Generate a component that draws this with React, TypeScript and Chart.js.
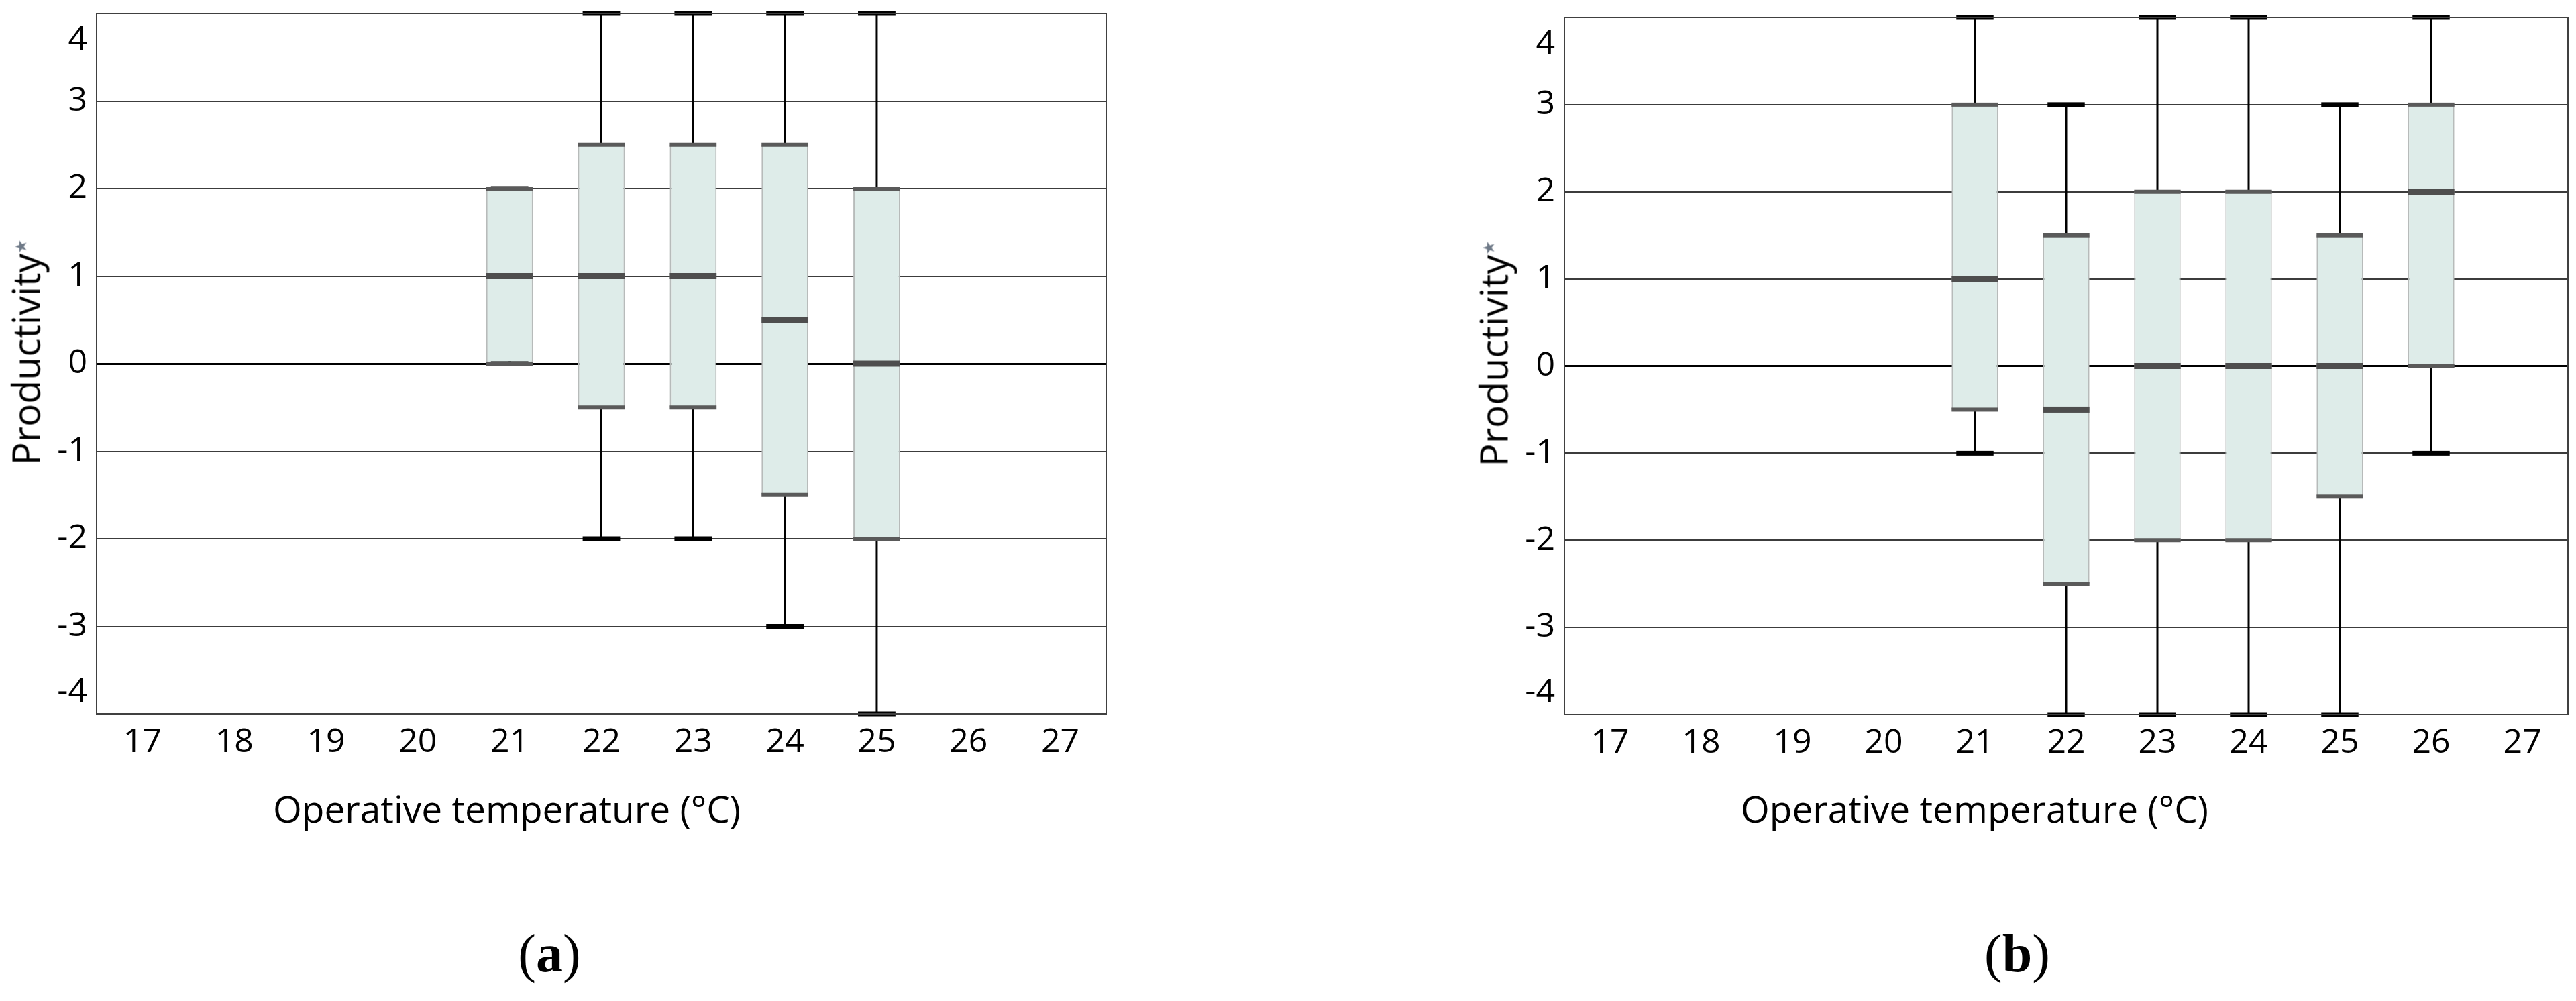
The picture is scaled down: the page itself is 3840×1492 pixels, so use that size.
import React, { useEffect, useRef } from 'react';
import { Chart, registerables } from 'chart.js';

Chart.register(...registerables);

// ---------- data ----------
const categories = ['17', '18', '19', '20', '21', '22', '23', '24', '25', '26', '27'];
const yTickValues = [-4, -3, -2, -1, 0, 1, 2, 3, 4];

// panel (a)
const aMin = [null, null, null, null, 0, -2, -2, -3, -4, null, null];
const aQ1 = [null, null, null, null, 0, -0.5, -0.5, -1.5, -2, null, null];
const aMedian = [null, null, null, null, 1, 1, 1, 0.5, 0, null, null];
const aQ3 = [null, null, null, null, 2, 2.5, 2.5, 2.5, 2, null, null];
const aMax = [null, null, null, null, 2, 4, 4, 4, 4, null, null];

// panel (b)
const bMin = [null, null, null, null, -1, -4, -4, -4, -4, -1, null];
const bQ1 = [null, null, null, null, -0.5, -2.5, -2, -2, -1.5, 0, null];
const bMedian = [null, null, null, null, 1, -0.5, 0, 0, 0, 2, null];
const bQ3 = [null, null, null, null, 3, 1.5, 2, 2, 1.5, 3, null];
const bMax = [null, null, null, null, 4, 3, 4, 4, 3, 4, null];

const xTitle = 'Operative temperature (°C)';
const yTitle = 'Productivity';

type Stats = {
  min: (number | null)[];
  q1: (number | null)[];
  median: (number | null)[];
  q3: (number | null)[];
  max: (number | null)[];
};

const FONT = '"Open Sans", "Noto Sans", sans-serif';

function makeBoxPlugin(s: Stats) {
  return {
    id: 'boxWhiskers',
    beforeDatasetsDraw(chart: any) {
      const { ctx } = chart;
      const y = chart.scales.y;
      const meta = chart.getDatasetMeta(0);
      ctx.save();
      ctx.strokeStyle = '#000';
      ctx.lineWidth = 3;
      meta.data.forEach((bar: any, i: number) => {
        if (s.min[i] == null || s.max[i] == null) return;
        ctx.beginPath();
        ctx.moveTo(bar.x, y.getPixelForValue(s.max[i]));
        ctx.lineTo(bar.x, y.getPixelForValue(s.min[i]));
        ctx.stroke();
      });
      ctx.restore();
    },
    afterDatasetsDraw(chart: any) {
      const { ctx } = chart;
      const y = chart.scales.y;
      const meta = chart.getDatasetMeta(0);
      ctx.save();
      meta.data.forEach((bar: any, i: number) => {
        if (s.q1[i] == null) return;
        const w = bar.width;
        const capW = w * 0.8;
        // whisker caps
        ctx.fillStyle = '#000';
        [s.min[i], s.max[i]].forEach((v) => {
          if (v == null) return;
          const py = y.getPixelForValue(v);
          ctx.fillRect(bar.x - capW / 2, py - 3.5, capW, 7);
        });
        // hinge bands
        ctx.fillStyle = '#5a5a5a';
        [s.q1[i], s.q3[i]].forEach((v) => {
          if (v == null) return;
          const py = y.getPixelForValue(v);
          ctx.fillRect(bar.x - w / 2, py - 3, w, 6);
        });
        // median
        if (s.median[i] != null) {
          ctx.fillStyle = '#4e4e4e';
          const py = y.getPixelForValue(s.median[i]);
          ctx.fillRect(bar.x - w / 2, py - 4.5, w, 9);
        }
      });
      ctx.restore();
    },
    afterDraw(chart: any) {
      const { ctx, chartArea } = chart;
      const y = chart.scales.y;
      ctx.save();
      // frame
      ctx.strokeStyle = '#404040';
      ctx.lineWidth = 2;
      ctx.strokeRect(chartArea.left, chartArea.top, chartArea.right - chartArea.left, chartArea.bottom - chartArea.top);
      // y tick labels (end labels pulled inside, as in the original)
      ctx.fillStyle = '#000';
      ctx.font = `50px ${FONT}`;
      ctx.textAlign = 'right';
      ctx.textBaseline = 'middle';
      y.ticks.forEach((t: any) => {
        let py = y.getPixelForValue(t.value);
        if (t.value === y.max) py = chartArea.top + 40;
        if (t.value === y.min) py = chartArea.bottom - 32;
        ctx.fillText(String(t.value), chartArea.left - 14, py);
      });
      ctx.restore();
    },
  };
}

function BoxChart(props: { stats: Stats; left: number; top: number; width: number; height: number; padRight: number }) {
  const ref = useRef<HTMLCanvasElement | null>(null);
  const { stats, left, top, width, height, padRight } = props;
  useEffect(() => {
    if (!ref.current) return;
    const boxes = stats.q1.map((v, i) => (v == null || stats.q3[i] == null ? null : [v, stats.q3[i] as number]));
    const chart = new Chart(ref.current, {
      type: 'bar',
      data: {
        labels: categories,
        datasets: [
          {
            data: boxes as any,
            backgroundColor: '#deece9',
            borderColor: '#b7bbba',
            borderWidth: 2,
            borderSkipped: false,
            categoryPercentage: 1,
            barPercentage: 0.51,
            grouped: false,
          } as any,
        ],
      },
      options: {
        animation: false,
        responsive: false,
        devicePixelRatio: 1,
        layout: { padding: { top: 20, right: padRight, bottom: 0, left: 0 } },
        plugins: { legend: { display: false }, tooltip: { enabled: false }, title: { display: false } },
        scales: {
          x: {
            type: 'category',
            offset: true,
            grid: { display: false, drawTicks: false },
            border: { display: false },
            ticks: {
              color: '#000',
              font: { family: FONT, size: 50 },
              padding: 13,
              maxRotation: 0,
              autoSkip: false,
            },
            afterFit: (scale: any) => {
              scale.height = 96;
            },
          },
          y: {
            type: 'linear',
            min: -4,
            max: 4,
            afterBuildTicks: (scale: any) => {
              scale.ticks = yTickValues.map((v) => ({ value: v }));
            },
            grid: {
              drawTicks: false,
              color: (c: any) => (c.tick && c.tick.value === 0 ? '#000' : '#3c3c3c'),
              lineWidth: (c: any) => (c.tick && c.tick.value === 0 ? 3 : 2),
            },
            border: { display: false },
            ticks: { display: false },
            afterFit: (scale: any) => {
              scale.width = 144;
            },
          },
        },
      } as any,
      plugins: [makeBoxPlugin(stats)],
    });
    return () => chart.destroy();
  }, []);
  return (
    <canvas
      ref={ref}
      width={width}
      height={height}
      style={{ position: 'absolute', left, top, width, height }}
    />
  );
}

function Titles(props: { plotLeft: number; yCx: number; yCy: number; caption: string }) {
  const { plotLeft, yCx, yCy, caption } = props;
  return (
    <>
      <div
        style={{
          position: 'absolute',
          left: yCx,
          top: yCy,
          transform: 'translate(-50%, -50%) rotate(-90deg)',
          fontFamily: FONT,
          fontSize: 57,
          lineHeight: 1,
          whiteSpace: 'nowrap',
          color: '#000',
        }}
      >
        {yTitle}
        <span style={{ fontSize: 24, color: '#6f7a88', verticalAlign: 'super', fontFamily: '"DejaVu Sans", sans-serif' }}>★</span>
      </div>
      <div
        style={{
          position: 'absolute',
          left: plotLeft + 263,
          top: 1177,
          fontFamily: FONT,
          fontSize: 55,
          lineHeight: 1,
          whiteSpace: 'nowrap',
          color: '#000',
        }}
      >
        {xTitle}
      </div>
      <div
        style={{
          position: 'absolute',
          left: plotLeft + 675,
          top: 1381,
          transform: 'translateX(-50%)',
          fontFamily: '"Liberation Serif", "Times New Roman", serif',
          fontSize: 80,
          lineHeight: 1,
          whiteSpace: 'nowrap',
          color: '#000',
        }}
      >
        (<b>{caption}</b>)
      </div>
    </>
  );
}

export default function App() {
  const statsA: Stats = { min: aMin, q1: aQ1, median: aMedian, q3: aQ3, max: aMax };
  const statsB: Stats = { min: bMin, q1: bQ1, median: bMedian, q3: bQ3, max: bMax };
  return (
    <div style={{ position: 'absolute', left: 0, top: 0, width: 3840, height: 1492, background: '#fff', overflow: 'hidden' }}>
      <BoxChart stats={statsA} left={0} top={0} width={1720} height={1160} padRight={71} />
      <BoxChart stats={statsB} left={2188} top={6} width={1652} height={1155} padRight={12} />
      <Titles plotLeft={144} yCx={38} yCy={525} caption="a" />
      <Titles plotLeft={2332} yCx={2226} yCy={527} caption="b" />
    </div>
  );
}
